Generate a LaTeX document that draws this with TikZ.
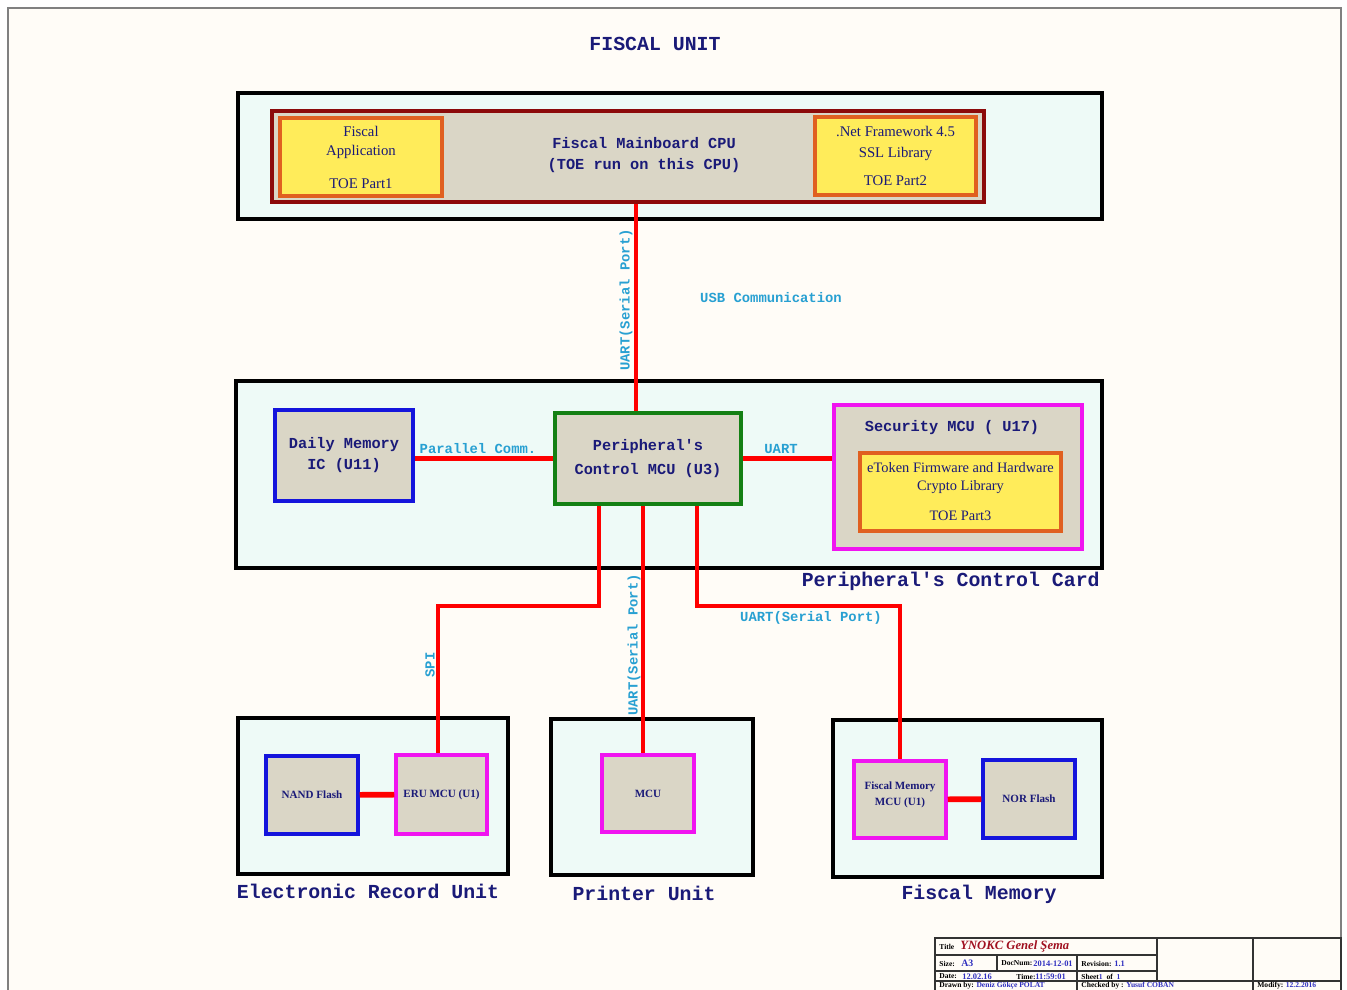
\documentclass[tikz,border=0pt]{standalone}
\usepackage{fontspec}
\setmainfont{Liberation Serif}
\newfontfamily\crfont{Liberation Mono}
\definecolor{paper}{HTML}{FFFCF7}
\definecolor{navy}{HTML}{1A1A78}
\definecolor{buscyan}{HTML}{28A0D2}
\definecolor{palecyan}{HTML}{EEFAF7}
\definecolor{chipgray}{HTML}{DAD6C6}
\definecolor{toeyellow}{HTML}{FFEC5A}
\definecolor{toeorange}{HTML}{E06020}
\definecolor{cpured}{HTML}{8C0A0A}
\definecolor{memblue}{HTML}{1414DC}
\definecolor{mcugreen}{HTML}{148014}
\definecolor{mcumagenta}{HTML}{F014F0}
\definecolor{tbred}{HTML}{A01020}
\definecolor{tbblue}{HTML}{3030C0}
\tikzset{
  unitbox/.style={draw=black, line width=2.2pt, fill=palecyan, inner sep=0pt},
  chip/.style={draw=#1, line width=2pt, fill=chipgray, inner sep=1pt, align=center, text=navy,
    font=\crfont\bfseries\fontsize{8.7}{11.9}\selectfont},
  smallchip/.style={chip=#1, font=\bfseries\fontsize{6.3}{9}\selectfont},
  toebox/.style={draw=toeorange, line width=2pt, fill=toeyellow, inner sep=1pt, align=center, text=navy,
    font=\fontsize{8.4}{10.8}\selectfont},
  link/.style={draw=red, line width=2.4pt},
  busname/.style={text=buscyan, inner sep=0pt, font=\crfont\bfseries\fontsize{7.9}{9}\selectfont},
  heading/.style={text=navy, inner sep=0pt, font=\crfont\bfseries\fontsize{11.3}{13}\selectfont},
  chipname/.style={text=navy, inner sep=0pt, align=center, font=\crfont\bfseries\fontsize{8.7}{11.9}\selectfont},
  tblabel/.style={anchor=west, inner sep=0pt, font=\bfseries\fontsize{4.3}{5}\selectfont},
  tbvalue/.style={anchor=west, inner sep=0pt, text=tbblue, font=\bfseries\fontsize{4.8}{5}\selectfont}
}
\begin{document}
\begin{tikzpicture}[x=0.02cm, y=-0.02cm]
\useasboundingbox (0,0) rectangle (1347,990);
\clip (0,0) rectangle (1347,990);
\fill[white] (0,0) rectangle (1347,990);
\fill[paper] (8,8) rectangle (1341,1000);
\draw[gray, line width=0.8pt] (8,1000) -- (8,8) -- (1341,8) -- (1341,1000);

\node[heading] (title) at (655,44) {FISCAL UNIT};

\node[unitbox, minimum width=17.28cm, minimum height=2.52cm] (mainboard) at (670,156) {};
\node[chip=cpured, line width=2.6pt, minimum width=14.24cm, minimum height=1.82cm] (cpu) at (628,156.5) {};
\node[chipname] (cpuname) at (644,155.5) {Fiscal Mainboard CPU\\(TOE run on this CPU)};
\node[toebox, minimum width=3.24cm, minimum height=1.56cm] (fiscalapp) at (361,157)
  {Fiscal\\Application\\[8pt]TOE Part1};
\node[toebox, minimum width=3.22cm, minimum height=1.56cm] (netlib) at (895.5,156)
  {.Net Framework 4.5\\[1pt]SSL Library\\[5pt]TOE Part2};

\node[busname, rotate=90] (usbuart) at (626,300) {UART(Serial Port)};
\node[busname] (usbcomm) at (771,298) {USB Communication};

\node[unitbox, minimum width=17.32cm, minimum height=3.74cm] (pcard) at (669,474.5) {};
\node[heading, anchor=east] (pcardname) at (1100,581) {Peripheral's Control Card};
\node[chip=memblue, minimum width=2.76cm, minimum height=1.82cm] (daily) at (344,455.5)
  {Daily Memory\\IC (U11)};
\node[chip=mcugreen, minimum width=3.72cm, minimum height=1.82cm] (pmcu) at (648,458.5)
  {Peripheral's\\[2pt]Control MCU (U3)};
\node[chip=mcumagenta, minimum width=4.96cm, minimum height=2.88cm] (secmcu) at (958,477) {};
\node[chipname] (secname) at (952,428) {Security MCU ( U17)};
\node[toebox, font=\fontsize{8.2}{10.2}\selectfont, minimum width=4.02cm, minimum height=1.56cm] (etoken) at (960.5,492)
  {eToken Firmware and Hardware\\Crypto Library\\[7pt]TOE Part3};
\node[busname] (parcomm) at (478,449) {Parallel Comm.};
\node[busname] (secuart) at (781,449) {UART};

\node[unitbox, minimum width=5.4cm, minimum height=3.12cm] (eru) at (373,796) {};
\node[smallchip=memblue, minimum width=1.84cm, minimum height=1.56cm] (nand) at (312,795) {NAND Flash};
\node[smallchip=mcumagenta, minimum width=1.82cm, minimum height=1.58cm] (erumcu) at (441.5,794.5) {ERU MCU (U1)};
\node[heading] (eruname) at (368,891) {Electronic Record Unit};

\node[unitbox, minimum width=4.04cm, minimum height=3.12cm] (printer) at (652,797) {};
\node[smallchip=mcumagenta, minimum width=1.84cm, minimum height=1.54cm] (prmcu) at (648,793.5) {MCU};
\node[heading] (printername) at (644,893) {Printer Unit};

\node[unitbox, minimum width=5.38cm, minimum height=3.14cm] (fmem) at (967.5,798.5) {};
\node[smallchip=mcumagenta, minimum width=1.84cm, minimum height=1.54cm] (fmmcu) at (900,799.5)
  {Fiscal Memory\\MCU (U1)\\[-2pt]};
\node[smallchip=memblue, minimum width=1.84cm, minimum height=1.56cm] (norfl) at (1029,799) {NOR Flash};
\node[heading] (fmemname) at (979,894) {Fiscal Memory};

\node[busname, rotate=90] (spiname) at (430,665) {SPI};
\node[busname, rotate=90] (pruart) at (634,645) {UART(Serial Port)};
\node[busname] (fmuart) at (811,618) {UART(Serial Port)};

\draw[link] (cpu.south -| 636,0) -- (pmcu.north -| 636,0);
\draw[link] (pmcu.west) -- (pmcu.west -| daily.east);
\draw[link] (pmcu.east) -- (pmcu.east -| secmcu.west);
\draw[link] (pmcu.south -| 599,0) |- (438,606) -- (erumcu.north -| 438,0);
\draw[link] (pmcu.south -| 643,0) -- (prmcu.north -| 643,0);
\draw[link] (pmcu.south -| 697,0) |- (900,606) -- (fmmcu.north);
\draw[link, line width=3.2pt] (nand) -- (erumcu);
\draw[link, line width=3.2pt] (fmmcu) -- (norfl);

% title block
\draw[black!80, line width=0.6pt] (935,938) rectangle (1341,1000);
\draw[black!80, line width=0.6pt] (1157,938) -- (1157,981) (1253,938) -- (1253,1000)
  (935,955) -- (1157,955) (935,971) -- (1157,971) (935,981) -- (1341,981)
  (997,955) -- (997,971) (1077,955) -- (1077,1000);
\node[tblabel] (tbtitle) at (939,946.5) {Title};
\node[anchor=west, inner sep=0pt, text=tbred, font=\bfseries\itshape\fontsize{7.2}{8}\selectfont] (tbname) at (960,946) {YNOKC Genel Şema};
\node[tblabel] (tbsize) at (939,963.5) {Size:};
\node[tbvalue, font=\bfseries\fontsize{5.6}{6}\selectfont] (tbsizev) at (961,963) {A3};
\node[tblabel] (tbdoc) at (1001,963.5) {DocNum:};
\node[tbvalue] (tbdocv) at (1033,963.5) {2014-12-01};
\node[tblabel] (tbrev) at (1081,963.5) {Revision:};
\node[tbvalue] (tbrevv) at (1114,963.5) {1.1};
\node[tblabel] (tbdate) at (939,976.5) {Date:};
\node[tbvalue] (tbdatev) at (962,976.5) {12.02.16};
\node[tblabel] (tbtime) at (1016,976.5) {Time:};
\node[tbvalue] (tbtimev) at (1035,976.5) {11:59:01};
\node[tblabel] (tbsheet) at (1081,976.5) {Sheet\textcolor{tbblue}{1} \ of \ \textcolor{tbblue}{1}};
\node[tblabel] (tbdrawn) at (939,985.5) {Drawn by: \textcolor{tbblue}{Deniz Gökçe POLAT}};
\node[tblabel] (tbcheck) at (1081,985.5) {Checked by : \textcolor{tbblue}{Yusuf COBAN}};
\node[tblabel] (tbmod) at (1257,985.5) {Modify: \textcolor{tbblue}{12.2.2016}};
\end{tikzpicture}
\end{document}
